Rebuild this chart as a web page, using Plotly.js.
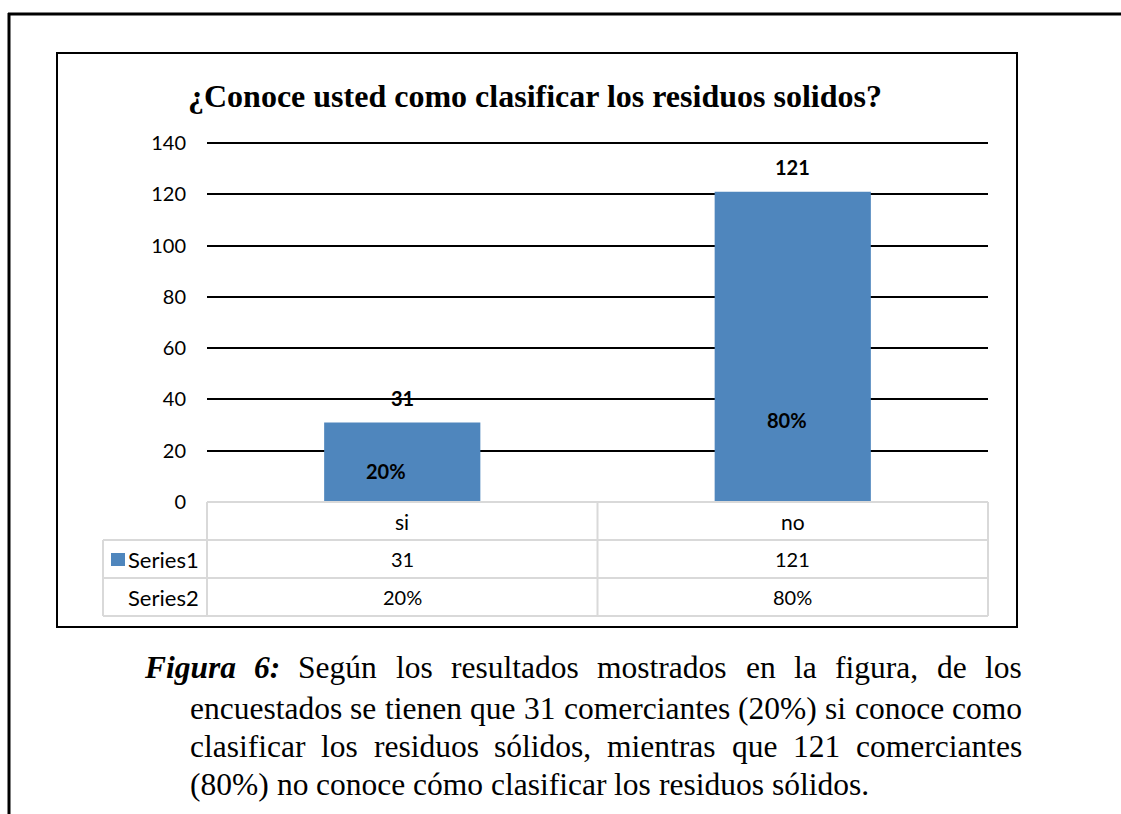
<!DOCTYPE html>
<html>
<head>
<meta charset="utf-8">
<script src="https://cdn.plot.ly/plotly-3.0.1.min.js"></script>
<style>
  html, body { margin: 0; padding: 0; background: #ffffff; }
  #chart { width: 1121px; height: 814px; }
</style>
</head>
<body>
<div id="chart"></div>
<script>
// ---------------- data ----------------
const categories = ['si', 'no'];
const series1Values = [31, 121];
const series2Labels = ['20%', '80%'];
const seriesNames = ['Series1', 'Series2'];
const titleText = '¿Conoce usted como clasificar los residuos solidos?';
const captionLines = [
  ['<b><i>Figura</i></b>', '<b><i>6:</i></b>', 'Según', 'los', 'resultados', 'mostrados', 'en', 'la', 'figura,', 'de', 'los'],
  ['encuestados', 'se', 'tienen', 'que', '31', 'comerciantes', '(20%)', 'si', 'conoce', 'como'],
  ['clasificar', 'los', 'residuos', 'sólidos,', 'mientras', 'que', '121', 'comerciantes'],
  ['(80%)', 'no', 'conoce', 'cómo', 'clasificar', 'los', 'residuos', 'sólidos.']
];

// ---------------- geometry helpers ----------------
const W = 1121, H = 814;
const px = x => x / W;
const py = y => 1 - y / H;
const BAR = '#4F86BD';
const GRIDGRAY = '#d9d9d9';
const SANS = 'Lato, Open Sans, sans-serif';
const SERIF = 'Liberation Serif, Times New Roman, serif';

const plotL = 207, plotR = 988, plotB = 502;
const unit = (502 - 143) / 140;
const yMax = 142;
const plotT = plotB - yMax * unit;
const colMid = (plotL + plotR) / 2;
const rowY = [502, 540, 578, 616];
const legL = 103;

const shapes = [];
const annotations = [];

// outer page frame (left + top)
shapes.push({type: 'line', xref: 'paper', yref: 'paper', x0: px(9), x1: px(9), y0: py(13), y1: py(814), line: {color: '#000', width: 3}});
shapes.push({type: 'line', xref: 'paper', yref: 'paper', x0: px(8), x1: px(1121), y0: py(14), y1: py(14), line: {color: '#000', width: 3}});
// chart box
shapes.push({type: 'rect', xref: 'paper', yref: 'paper', x0: px(57), x1: px(1017), y0: py(53), y1: py(627), line: {color: '#000', width: 2}});

// data table grid
function gline(x0, y0, x1, y1) {
  shapes.push({type: 'line', xref: 'paper', yref: 'paper', x0: px(x0), x1: px(x1), y0: py(y0), y1: py(y1), line: {color: GRIDGRAY, width: 2}});
}
gline(plotL, rowY[0], plotR, rowY[0]);
gline(legL, rowY[1], plotR, rowY[1]);
gline(legL, rowY[2], plotR, rowY[2]);
gline(legL, rowY[3], plotR, rowY[3]);
gline(legL, rowY[1], legL, rowY[3]);
gline(plotL, rowY[0], plotL, rowY[3]);
gline(colMid, rowY[0], colMid, rowY[3]);
gline(plotR, rowY[0], plotR, rowY[3]);
// legend key
shapes.push({type: 'rect', xref: 'paper', yref: 'paper', x0: px(111), x1: px(125), y0: py(553), y1: py(566), fillcolor: BAR, line: {width: 0}});

// table texts
function tableText(txt, xc, rowIdx, anchor, size) {
  annotations.push({
    xref: 'paper', yref: 'paper', x: px(xc), y: py((rowY[rowIdx] + rowY[rowIdx + 1]) / 2),
    text: txt, showarrow: false, xanchor: anchor || 'center', yanchor: 'middle',
    font: {family: SANS, size: size || 20, color: '#000'}
  });
}
const colCenters = [plotL + (colMid - plotL) / 2, colMid + (plotR - colMid) / 2];
categories.forEach((c, i) => tableText(c, colCenters[i], 0, 'center', 21));
series1Values.forEach((v, i) => tableText(String(v), colCenters[i], 1));
series2Labels.forEach((v, i) => tableText(v, colCenters[i], 2));
tableText(seriesNames[0], 201, 1, 'right', 22);
tableText(seriesNames[1], 201, 2, 'right', 22);

// data labels above bars (Series1) and inside bars (Series2)
series1Values.forEach((v, i) => {
  annotations.push({xref: 'x', yref: 'y', x: categories[i], y: v, yshift: 25, text: '<b>' + v + '</b>',
    showarrow: false, xanchor: 'center', yanchor: 'middle', font: {family: SANS, size: 20, color: '#000'}});
});
const s2Y = [12.1, 32];
const s2Shift = [-16, -6];
series2Labels.forEach((t, i) => {
  annotations.push({xref: 'x', yref: 'y', x: categories[i], y: s2Y[i], xshift: s2Shift[i], text: '<b>' + t + '</b>',
    showarrow: false, xanchor: 'center', yanchor: 'middle', font: {family: SANS, size: 20, color: '#000'}});
});

// title
annotations.push({xref: 'paper', yref: 'paper', x: px(535), y: py(96), text: '<b>' + titleText + '</b>',
  showarrow: false, xanchor: 'center', yanchor: 'middle', font: {family: SERIF, size: 32, color: '#000'}});

// caption, justified
const capSize = 31.5;
const capLeft = [143, 189, 189, 189];
const capRight = 1021;
const capBase = [678, 719, 757, 795];
const cv = document.createElement('canvas').getContext('2d');
function measure(word) {
  const bold = word.indexOf('<b>') >= 0;
  const plain = word.replace(/<[^>]+>/g, '');
  cv.font = (bold ? 'italic bold ' : '') + capSize + 'px "Liberation Serif"';
  return cv.measureText(plain).width;
}
captionLines.forEach((words, li) => {
  const widths = words.map(measure);
  const total = widths.reduce((a, b) => a + b, 0);
  const justify = li < captionLines.length - 1;
  cv.font = capSize + 'px "Liberation Serif"';
  const spaceW = cv.measureText(' ').width;
  const gap = justify ? (capRight - capLeft[li] - total) / (words.length - 1) : spaceW;
  let x = capLeft[li];
  words.forEach((w, wi) => {
    annotations.push({xref: 'paper', yref: 'paper', x: px(x), y: py(capBase[li] - 11), text: w,
      showarrow: false, xanchor: 'left', yanchor: 'middle', borderpad: 0,
      font: {family: SERIF, size: capSize, color: '#000'}});
    x += widths[wi] + gap;
  });
});

const trace = {
  type: 'bar', x: categories, y: series1Values, name: seriesNames[0],
  marker: {color: BAR, line: {width: 0}}, hoverinfo: 'x+y'
};

const layout = {
  width: W, height: H, autosize: false,
  margin: {l: 0, r: 0, t: 0, b: 0, pad: 0},
  paper_bgcolor: '#fff', plot_bgcolor: 'rgba(0,0,0,0)',
  showlegend: false, bargap: 0.6,
  xaxis: {domain: [px(plotL), px(plotR)], type: 'category', showticklabels: false, showgrid: false,
          zeroline: false, showline: false, ticks: '', fixedrange: true},
  yaxis: {domain: [py(plotB), py(plotT)], range: [0, yMax], dtick: 20, tick0: 0,
          showgrid: true, gridcolor: '#000', gridwidth: 2,
          zeroline: true, zerolinecolor: GRIDGRAY, zerolinewidth: 2, showline: false,
          ticks: '', ticklabelstandoff: 20, tickfont: {family: SANS, size: 20, color: '#000'}, fixedrange: true},
  shapes: shapes, annotations: annotations
};

Plotly.newPlot('chart', [trace], layout, {displayModeBar: false, staticPlot: true});
</script>
</body>
</html>
